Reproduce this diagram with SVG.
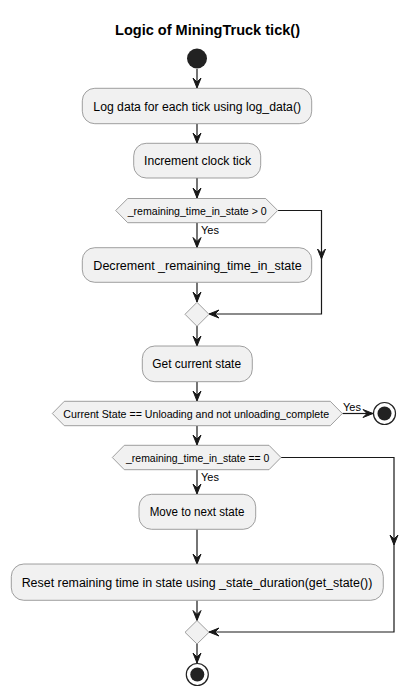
<svg xmlns="http://www.w3.org/2000/svg" width="418" height="696" viewBox="0 0 418 696">
<style>
  text { font-family: "Liberation Sans", Arial, sans-serif; fill: #000; }
  .title { font-size: 14px; font-weight: bold; }
  .act { fill: #F1F1F1; stroke: #888888; stroke-width: 0.8; }
  .t12 { font-size: 12px; text-anchor: middle; }
  .t11 { font-size: 11px; text-anchor: middle; }
  .lbl { font-size: 11px; }
  .edge { fill: none; stroke: #181818; stroke-width: 1.2; }
  .ah { fill: #181818; stroke: #181818; stroke-width: 1; }
</style>
<defs>
  <path id="ahDown" d="M-4,-10 L0,0 L4,-10 L0,-6 Z"/>
  <path id="ahLeft" d="M10,-4 L0,0 L10,4 L6,0 Z"/>
  <path id="ahRight" d="M-10,-4 L0,0 L-10,4 L-6,0 Z"/>
</defs>
<rect width="418" height="696" fill="#FFFFFF"/>
<text class="title" x="207.5" y="35" text-anchor="middle" textLength="185" lengthAdjust="spacingAndGlyphs">Logic of MiningTruck tick()</text>

<g id="connectors">
  <path class="edge" d="M197,69 V88"/>
  <use href="#ahDown" class="ah" x="197" y="88"/>
  <path class="edge" d="M197,124 V143"/>
  <use href="#ahDown" class="ah" x="197" y="143"/>
  <path class="edge" d="M197,178 V198"/>
  <use href="#ahDown" class="ah" x="197" y="198"/>
  <path class="edge" d="M197,223 V247.5"/>
  <use href="#ahDown" class="ah" x="197" y="247.5"/>
  <text class="lbl" x="201" y="234">Yes</text>
  <path class="edge" d="M278,210.5 H321.5 V314 H209"/>
  <use href="#ahDown" class="ah" x="321.5" y="259"/>
  <use href="#ahLeft" class="ah" x="209" y="314"/>
  <path class="edge" d="M197,282.5 V302"/>
  <use href="#ahDown" class="ah" x="197" y="302"/>
  <path class="edge" d="M197,326 V346"/>
  <use href="#ahDown" class="ah" x="197" y="346"/>
  <path class="edge" d="M197,382 V401"/>
  <use href="#ahDown" class="ah" x="197" y="401"/>
  <path class="edge" d="M342.5,413.5 H373"/>
  <use href="#ahRight" class="ah" x="373" y="413.5"/>
  <text class="lbl" x="343" y="411">Yes</text>
  <path class="edge" d="M197,426 V445"/>
  <use href="#ahDown" class="ah" x="197" y="445"/>
  <path class="edge" d="M197,470 V494"/>
  <use href="#ahDown" class="ah" x="197" y="494"/>
  <text class="lbl" x="201" y="481">Yes</text>
  <path class="edge" d="M281,457.5 H394 V632 H209"/>
  <use href="#ahDown" class="ah" x="394" y="545"/>
  <use href="#ahLeft" class="ah" x="209" y="632"/>
  <path class="edge" d="M197,529.5 V564"/>
  <use href="#ahDown" class="ah" x="197" y="564"/>
  <path class="edge" d="M197,600.5 V620.5"/>
  <use href="#ahDown" class="ah" x="197" y="620.5"/>
  <path class="edge" d="M197,644 V663"/>
  <use href="#ahDown" class="ah" x="197" y="663"/>
</g>

<g id="start">
  <circle cx="197" cy="58.5" r="10" fill="#222222"/>
</g>

<g id="log_data">
  <rect class="act" x="82.3" y="88.3" width="229.4" height="35.4" rx="12.5"/>
  <text class="t12" x="197.2" y="110.5" textLength="207.7" lengthAdjust="spacingAndGlyphs">Log data for each tick using log_data()</text>
</g>

<g id="increment">
  <rect class="act" x="133.7" y="143.3" width="127" height="34.7" rx="12.5"/>
  <text class="t12" x="197.5" y="165" textLength="107" lengthAdjust="spacingAndGlyphs">Increment clock tick</text>
</g>

<g id="if_remaining_gt0">
  <polygon class="act" points="115.7,210.5 127.7,198.5 265.7,198.5 277.7,210.5 265.7,222.7 127.7,222.7"/>
  <text class="t11" x="197.2" y="214.5" textLength="139" lengthAdjust="spacingAndGlyphs">_remaining_time_in_state &gt; 0</text>
</g>

<g id="decrement">
  <rect class="act" x="82.3" y="247.7" width="229.4" height="34.6" rx="12.5"/>
  <text class="t12" x="197.5" y="269.5" textLength="208.3" lengthAdjust="spacingAndGlyphs">Decrement _remaining_time_in_state</text>
</g>

<g id="merge1">
  <polygon class="act" points="197,302.3 209,314.3 197,326.3 185,314.3"/>
</g>

<g id="get_state">
  <rect class="act" x="142.3" y="346" width="110" height="35.7" rx="12.5"/>
  <text class="t12" x="196.7" y="368" textLength="88.7" lengthAdjust="spacingAndGlyphs">Get current state</text>
</g>

<g id="if_unloading">
  <polygon class="act" points="52.3,413.5 64.3,401.3 330.3,401.3 342.3,413.5 330.3,425.7 64.3,425.7"/>
  <text class="t11" x="196.2" y="417.5" textLength="265.7" lengthAdjust="spacingAndGlyphs">Current State == Unloading and not unloading_complete</text>
</g>

<g id="stop1">
  <circle cx="384.5" cy="413.5" r="11" fill="#FFFFFF" stroke="#222222" stroke-width="1.2"/>
  <circle cx="384.5" cy="413.5" r="7" fill="#222222"/>
</g>

<g id="if_remaining_eq0">
  <polygon class="act" points="112.3,457.5 124.3,445.3 269,445.3 281,457.5 269,469.7 124.3,469.7"/>
  <text class="t11" x="197.7" y="461.5" textLength="143.3" lengthAdjust="spacingAndGlyphs">_remaining_time_in_state == 0</text>
</g>

<g id="next_state">
  <rect class="act" x="139" y="494.3" width="116.7" height="35" rx="12.5"/>
  <text class="t12" x="197" y="516" textLength="94.7" lengthAdjust="spacingAndGlyphs">Move to next state</text>
</g>

<g id="reset">
  <rect class="act" x="11.3" y="564" width="372" height="36.3" rx="12.5"/>
  <text class="t12" x="197" y="586.5" textLength="350.7" lengthAdjust="spacingAndGlyphs">Reset remaining time in state using _state_duration(get_state())</text>
</g>

<g id="merge2">
  <polygon class="act" points="197,620.5 209,632.3 197,644 185,632.3"/>
</g>

<g id="stop2">
  <circle cx="197.3" cy="674.5" r="11" fill="#FFFFFF" stroke="#222222" stroke-width="1.2"/>
  <circle cx="197.3" cy="674.5" r="7" fill="#222222"/>
</g>
</svg>
